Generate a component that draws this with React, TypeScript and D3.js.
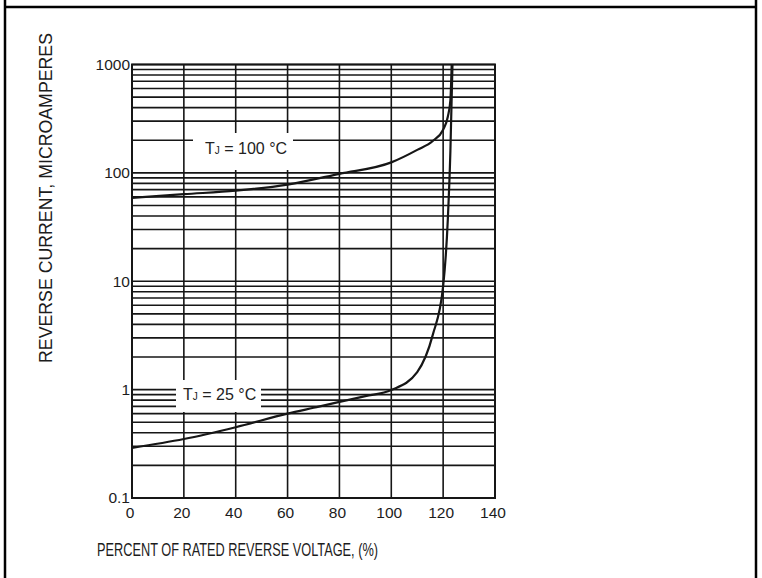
import * as d3 from "d3";

// reverse voltage, % of rated
const pct100 = [0, 20, 40, 60, 80, 100, 110, 116, 120, 121.8, 122.8, 123.3];
// reverse current at Tj = 100 °C, µA
const cur100 = [58.7, 63.6, 68.5, 78, 98, 125, 163, 197, 250, 330, 470, 1000];

const pct25 = [0, 20, 40, 60, 70, 80, 90, 100, 110, 116, 120, 121.8, 122.8, 123.6];
// reverse current at Tj = 25 °C, µA
const cur25 = [0.29, 0.35, 0.45, 0.6, 0.68, 0.77, 0.87, 0.99, 1.45, 3.2, 9, 37, 160, 1000];

const xTicks = [0, 20, 40, 60, 80, 100, 120, 140];
const yDecades = [0.1, 1, 10, 100, 1000];
const yTickLabels = ["0.1", "1", "10", "100", "1000"];

const W = 762;
const H = 578;
const plot = { left: 132, right: 495, top: 64.5, bottom: 498 };
const ink = "#161616";
const font = "'Liberation Sans', Arial, sans-serif";

export default function App() {
  const x = d3.scaleLinear().domain([0, 140]).range([plot.left, plot.right]);
  const y = d3.scaleLog().domain([0.1, 1000]).range([plot.bottom, plot.top]);

  // 2..9 minor lines within every decade
  const minor: number[] = [];
  yDecades.slice(0, -1).forEach((d) => {
    for (let m = 2; m <= 9; m++) minor.push(d * m);
  });

  const line = d3
    .line<[number, number]>()
    .x((d) => x(d[0]))
    .y((d) => y(d[1]))
    .curve(d3.curveMonotoneX);

  const path100 = line(pct100.map((p, i) => [p, cur100[i]]));
  const path25 = line(pct25.map((p, i) => [p, cur25[i]]));

  return (
    <svg
      width={W}
      height={H}
      style={{ position: "absolute", left: 0, top: 0, background: "#fff" }}
      fontFamily={font}
    >
      {/* cell border */}
      <line x1={5} x2={5} y1={0} y2={H} stroke="#000" strokeWidth={2.5} />
      <line x1={756} x2={756} y1={0} y2={H} stroke="#000" strokeWidth={2.5} />
      <line x1={5} x2={756} y1={7} y2={7} stroke="#000" strokeWidth={2.5} />

      {/* horizontal grid */}
      {[...yDecades, ...minor].map((v, i) => (
        <line
          key={"h" + i}
          x1={plot.left}
          x2={plot.right}
          y1={y(v)}
          y2={y(v)}
          stroke={ink}
          strokeWidth={1.6}
        />
      ))}
      {/* vertical grid */}
      {xTicks.map((t) => (
        <line
          key={"v" + t}
          x1={x(t)}
          x2={x(t)}
          y1={plot.top}
          y2={plot.bottom}
          stroke={ink}
          strokeWidth={1.6}
        />
      ))}
      <rect
        x={plot.left}
        y={plot.top}
        width={plot.right - plot.left}
        height={plot.bottom - plot.top}
        fill="none"
        stroke={ink}
        strokeWidth={2}
      />

      {/* curves */}
      <path d={path100 ?? ""} fill="none" stroke={ink} strokeWidth={2.2} />
      <path d={path25 ?? ""} fill="none" stroke={ink} strokeWidth={2.2} />

      {/* curve labels */}
      <rect x={193} y={133} width={100} height={37} fill="#fff" />
      <text x={205} y={154} fontSize={16} fill="#222">
        <tspan>T</tspan>
        <tspan fontSize={10}>J</tspan>
        <tspan> = 100 °C</tspan>
      </text>
      <rect x={176} y={380} width={85} height={32} fill="#fff" />
      <text x={183} y={400} fontSize={16} fill="#222">
        <tspan>T</tspan>
        <tspan fontSize={10}>J</tspan>
        <tspan> = 25 °C</tspan>
      </text>

      {/* y tick labels */}
      {yDecades.map((v, i) => (
        <text
          key={"yl" + v}
          x={plot.left - 2}
          y={y(v)}
          dy="0.35em"
          textAnchor="end"
          fontSize={15.5}
          fill="#1c1c1c"
        >
          {yTickLabels[i]}
        </text>
      ))}
      {/* x tick labels */}
      {xTicks.map((t) => (
        <text
          key={"xl" + t}
          x={x(t) - 2}
          y={518}
          textAnchor="middle"
          fontSize={15.5}
          fill="#1c1c1c"
        >
          {t}
        </text>
      ))}

      {/* axis titles */}
      <text
        x={97}
        y={556}
        fontSize={19}
        fill="#1c1c1c"
        textLength={281}
        lengthAdjust="spacingAndGlyphs"
      >
        PERCENT OF RATED REVERSE VOLTAGE, (%)
      </text>
      <text
        transform="translate(52,198) rotate(-90)"
        textAnchor="middle"
        fontSize={19}
        fill="#1c1c1c"
        textLength={330}
        lengthAdjust="spacingAndGlyphs"
      >
        REVERSE CURRENT, MICROAMPERES
      </text>
    </svg>
  );
}
